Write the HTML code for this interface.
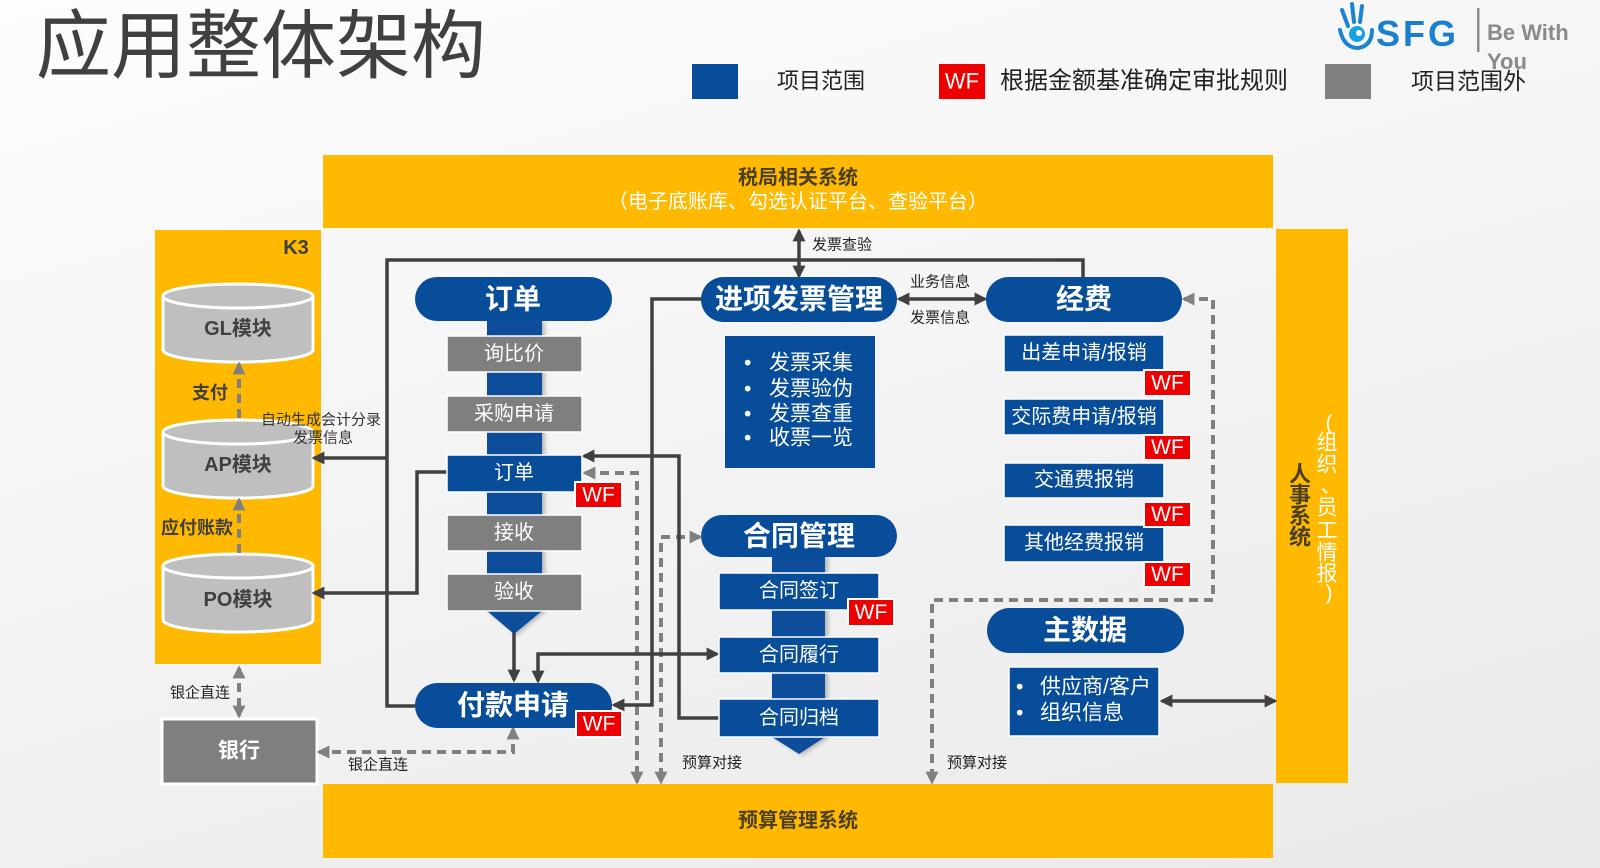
<!DOCTYPE html>
<html><head><meta charset="utf-8">
<style>
html,body{margin:0;padding:0;}
body{width:1600px;height:868px;overflow:hidden;background:linear-gradient(165deg,#fdfdfd 0%,#f4f4f4 45%,#e9e9e9 100%);font-family:"Liberation Sans","Noto Sans CJK SC",sans-serif;}
svg{display:block;}
text{font-family:"Liberation Sans","Noto Sans CJK SC",sans-serif;}
</style></head>
<body>
<svg width="1600" height="868" viewBox="0 0 1600 868" xmlns="http://www.w3.org/2000/svg">
<defs>
<marker id="ad" viewBox="0 0 10 10" refX="8" refY="5" markerWidth="13" markerHeight="13" markerUnits="userSpaceOnUse" orient="auto-start-reverse"><path d="M0,0 L10,5 L0,10 z" fill="#404040"/></marker>
<marker id="ag" viewBox="0 0 10 10" refX="8" refY="5" markerWidth="13" markerHeight="13" markerUnits="userSpaceOnUse" orient="auto-start-reverse"><path d="M0,0 L10,5 L0,10 z" fill="#808080"/></marker>
<filter id="sh" x="-10%" y="-10%" width="130%" height="130%"><feDropShadow dx="3" dy="1" stdDeviation="2" flood-color="#000" flood-opacity="0.25"/></filter>
</defs>

<!-- Title -->
<text x="36" y="46" font-size="75" fill="#404040" dominant-baseline="central">应用整体架构</text>

<!-- Legend -->
<rect x="692" y="64" width="46" height="35" fill="#084d9a"/>
<text x="777" y="81" font-size="22" fill="#222" dominant-baseline="central">项目范围</text>
<rect x="939" y="64" width="46" height="35" fill="#ee0000"/>
<text x="962" y="81" font-size="22" fill="#fff" text-anchor="middle" dominant-baseline="central">WF</text>
<text x="1000" y="81" font-size="24" fill="#222" dominant-baseline="central">根据金额基准确定审批规则</text>
<rect x="1325" y="64" width="46" height="35" fill="#808080"/>
<text x="1411" y="81" font-size="23" fill="#222" dominant-baseline="central">项目范围外</text>

<!-- Logo -->
<g fill="none" stroke="#1b84d2" stroke-width="4" stroke-linecap="round">
<path d="M1342,10 L1348,26"/><path d="M1352,4 L1354,22"/><path d="M1362,6 L1360,22"/><path d="M1340,30 Q1344,48 1358,48 Q1372,46 1372,30"/>
</g>
<circle cx="1357" cy="34" r="8" fill="#17a3e3"/>
<circle cx="1359" cy="33" r="3" fill="#fff"/>
<text x="1376" y="46" font-size="36" font-weight="bold" fill="#1b7fd0" letter-spacing="3">SFG</text>
<rect x="1477" y="8" width="2.5" height="44" fill="#8c8c8c"/>
<text x="1487" y="40" font-size="22" font-weight="bold" fill="#8a8a8a">Be With</text>
<text x="1487" y="69" font-size="22" font-weight="bold" fill="#8a8a8a">You</text>

<!-- Yellow system boxes -->
<rect x="323" y="155" width="950" height="73" fill="#ffb900"/>
<text x="798" y="178" font-size="20" font-weight="bold" fill="#4b3f22" text-anchor="middle" dominant-baseline="central">税局相关系统</text>
<text x="798" y="202" font-size="20" fill="#fff" text-anchor="middle" dominant-baseline="central">（电子底账库、勾选认证平台、查验平台）</text>

<rect x="323" y="784" width="950" height="74" fill="#ffb900"/>
<text x="798" y="821" font-size="20" font-weight="bold" fill="#4b3f22" text-anchor="middle" dominant-baseline="central">预算管理系统</text>

<rect x="1276" y="229" width="72" height="554" fill="#ffb900"/>
<g font-size="22" fill="#4b3f22" text-anchor="middle" dominant-baseline="central" font-weight="bold">
<text x="1300" y="474">人</text><text x="1300" y="495">事</text><text x="1300" y="516">系</text><text x="1300" y="537">统</text>
</g>
<g font-size="21" fill="#fff" text-anchor="middle" dominant-baseline="central">
<text x="1329" y="423">(</text><text x="1327" y="443">组</text><text x="1327" y="465">织</text><text x="1331" y="486">、</text><text x="1327" y="508">员</text><text x="1327" y="531">工</text><text x="1327" y="553">情</text><text x="1327" y="574">报</text><text x="1329" y="593">)</text>
</g>

<!-- K3 -->
<rect x="155" y="230" width="166" height="434" fill="#ffb900"/>
<text x="296" y="248" font-size="20" font-weight="bold" fill="#404040" text-anchor="middle" dominant-baseline="central">K3</text>

<!-- Cylinders -->
<g fill="#bfbfbf" stroke="#fff" stroke-width="3">
<path d="M163,296 L163,350 A75,12 0 0 0 313,350 L313,296 Z"/><ellipse cx="238" cy="296" rx="75" ry="12"/>
<path d="M163,432 L163,486 A75,12 0 0 0 313,486 L313,432 Z"/><ellipse cx="238" cy="432" rx="75" ry="12"/>
<path d="M163,566 L163,620 A75,12 0 0 0 313,620 L313,566 Z"/><ellipse cx="238" cy="566" rx="75" ry="12"/>
</g>
<g font-size="20" font-weight="bold" fill="#404040" text-anchor="middle" dominant-baseline="central">
<text x="238" y="329">GL模块</text>
<text x="238" y="465">AP模块</text>
<text x="238" y="600">PO模块</text>
</g>
<text x="210" y="393" font-size="18" font-weight="bold" fill="#404040" text-anchor="middle" dominant-baseline="central">支付</text>
<text x="197" y="528" font-size="18" font-weight="bold" fill="#404040" text-anchor="middle" dominant-baseline="central">应付账款</text>

<!-- Bank -->
<rect x="162" y="719" width="155" height="65" fill="#7f7f7f" stroke="#fff" stroke-width="3"/>
<text x="239" y="751" font-size="21" font-weight="bold" fill="#fff" text-anchor="middle" dominant-baseline="central">银行</text>

<!-- Dashed arrows gray -->
<g fill="none" stroke="#808080" stroke-width="4" stroke-dasharray="9,6">
<path d="M239,418 L239,364" marker-end="url(#ag)"/>
<path d="M239,553 L239,500" marker-end="url(#ag)"/>
<path d="M239,668 L239,716" marker-start="url(#ag)" marker-end="url(#ag)"/>
<path d="M513,729 L513,752 L319,752" marker-start="url(#ag)" marker-end="url(#ag)"/>
<path d="M585,473 L637,473 L637,782" marker-start="url(#ag)" marker-end="url(#ag)"/>
<path d="M700,537 L661,537 L661,782" marker-start="url(#ag)" marker-end="url(#ag)"/>
<path d="M1184,299 L1213,299 L1213,600 L932,600 L932,782" marker-start="url(#ag)" marker-end="url(#ag)"/>
</g>

<!-- Solid connectors -->
<g fill="none" stroke="#404040" stroke-width="3.5">
<path d="M415,706 L387,706 L387,260 L1083,260 L1083,278"/>
<path d="M387,458 L314,458" marker-end="url(#ad)"/>
<path d="M447,472 L417,472 L417,593 L314,593" marker-end="url(#ad)"/>
<path d="M584,456 L679,456 L679,718 L719,718" marker-start="url(#ad)"/>
<path d="M702,299 L652,299 L652,705 L614,705" marker-end="url(#ad)"/>
<path d="M514,617 L514,680" marker-start="url(#ad)" marker-end="url(#ad)"/>
<path d="M538,681 L538,654 L717,654" marker-start="url(#ad)" marker-end="url(#ad)"/>
<path d="M799,231 L799,276" marker-start="url(#ad)" marker-end="url(#ad)"/>
<path d="M899,299 L985,299" marker-start="url(#ad)" marker-end="url(#ad)"/>
<path d="M1162,701 L1275,701" marker-start="url(#ad)" marker-end="url(#ad)"/>
</g>

<!-- Connector labels -->
<g font-size="15" fill="#222" dominant-baseline="central">
<text x="812" y="245">发票查验</text>
<text x="910" y="282">业务信息</text>
<text x="910" y="318">发票信息</text>
<text x="261" y="420" fill="#333">自动生成会计分录</text>
<text x="293" y="438" fill="#333">发票信息</text>
<text x="170" y="693">银企直连</text>
<text x="348" y="765">银企直连</text>
<text x="682" y="763">预算对接</text>
<text x="947" y="763">预算对接</text>
</g>

<!-- 订单 column -->
<g filter="url(#sh)">
<rect x="487" y="320" width="55" height="292" fill="#084d9a"/>
<polygon points="487,611 542,611 514,634" fill="#084d9a"/>
</g>
<rect x="415" y="277" width="197" height="44" rx="22" fill="#084d9a"/>
<text x="513" y="299" font-size="28" font-weight="bold" fill="#fff" text-anchor="middle" dominant-baseline="central">订单</text>
<g stroke="#fff" stroke-width="1.5">
<rect x="447" y="336" width="135" height="36" fill="#7f7f7f"/>
<rect x="447" y="396" width="135" height="36" fill="#7f7f7f"/>
<rect x="447" y="455" width="135" height="37" fill="#084d9a"/>
<rect x="447" y="515" width="135" height="36" fill="#7f7f7f"/>
<rect x="447" y="574" width="135" height="37" fill="#7f7f7f"/>
</g>
<g font-size="20" fill="#fff" text-anchor="middle" dominant-baseline="central">
<text x="514" y="354">询比价</text>
<text x="514" y="414">采购申请</text>
<text x="514" y="473">订单</text>
<text x="514" y="533">接收</text>
<text x="514" y="592">验收</text>
</g>

<!-- 付款申请 -->
<rect x="415" y="683" width="197" height="45" rx="22.5" fill="#084d9a"/>
<text x="513" y="705" font-size="28" font-weight="bold" fill="#fff" text-anchor="middle" dominant-baseline="central">付款申请</text>

<!-- 进项发票管理 -->
<rect x="701" y="277" width="196" height="45" rx="22.5" fill="#084d9a"/>
<text x="799" y="299" font-size="28" font-weight="bold" fill="#fff" text-anchor="middle" dominant-baseline="central">进项发票管理</text>
<rect x="725" y="336" width="150" height="132" fill="#084d9a"/>
<g font-size="21" fill="#fff" dominant-baseline="central">
<text x="744" y="363">•</text><text x="769" y="363">发票采集</text>
<text x="744" y="389">•</text><text x="769" y="389">发票验伪</text>
<text x="744" y="414">•</text><text x="769" y="414">发票查重</text>
<text x="744" y="438">•</text><text x="769" y="438">收票一览</text>
</g>

<!-- 合同管理 -->
<g filter="url(#sh)">
<rect x="772" y="555" width="53" height="183" fill="#084d9a"/>
<polygon points="772,737 825,737 799,754" fill="#084d9a"/>
</g>
<rect x="701" y="515" width="196" height="42" rx="21" fill="#084d9a"/>
<text x="799" y="536" font-size="28" font-weight="bold" fill="#fff" text-anchor="middle" dominant-baseline="central">合同管理</text>
<g stroke="#fff" stroke-width="1.5" fill="#084d9a">
<rect x="719" y="573" width="160" height="37"/>
<rect x="719" y="637" width="160" height="36"/>
<rect x="719" y="699" width="160" height="38"/>
</g>
<g font-size="20" fill="#fff" text-anchor="middle" dominant-baseline="central">
<text x="799" y="591">合同签订</text>
<text x="799" y="655">合同履行</text>
<text x="799" y="718">合同归档</text>
</g>

<!-- 经费 -->
<rect x="986" y="277" width="196" height="45" rx="22.5" fill="#084d9a"/>
<text x="1084" y="299" font-size="28" font-weight="bold" fill="#fff" text-anchor="middle" dominant-baseline="central">经费</text>
<g stroke="#fff" stroke-width="1.5" fill="#084d9a">
<rect x="1004" y="335" width="160" height="37"/>
<rect x="1004" y="399" width="160" height="36"/>
<rect x="1004" y="463" width="160" height="35"/>
<rect x="1004" y="525" width="160" height="37"/>
</g>
<g font-size="20" fill="#fff" text-anchor="middle" dominant-baseline="central">
<text x="1084" y="353">出差申请/报销</text>
<text x="1084" y="417">交际费申请/报销</text>
<text x="1084" y="480">交通费报销</text>
<text x="1084" y="543">其他经费报销</text>
</g>

<!-- 主数据 -->
<rect x="987" y="608" width="197" height="45" rx="22.5" fill="#084d9a"/>
<text x="1085" y="630" font-size="28" font-weight="bold" fill="#fff" text-anchor="middle" dominant-baseline="central">主数据</text>
<rect x="1009" y="667" width="150" height="69" fill="#084d9a" stroke="#fff" stroke-width="1.5"/>
<g font-size="21" fill="#fff" dominant-baseline="central">
<text x="1016" y="687">•</text><text x="1040" y="687">供应商/客户</text>
<text x="1016" y="713">•</text><text x="1040" y="713">组织信息</text>
</g>

<!-- WF badges -->
<g stroke="#fff" stroke-width="2" fill="#ee0000">
<rect x="575" y="482" width="47" height="26"/>
<rect x="576" y="711" width="46" height="26"/>
<rect x="848" y="599" width="46" height="27"/>
<rect x="1144" y="370" width="47" height="26"/>
<rect x="1144" y="435" width="47" height="25"/>
<rect x="1144" y="502" width="47" height="25"/>
<rect x="1144" y="562" width="47" height="25"/>
</g>
<g font-size="21" fill="#fff" text-anchor="middle" dominant-baseline="central">
<text x="598.5" y="495">WF</text>
<text x="599" y="724">WF</text>
<text x="871" y="612.5">WF</text>
<text x="1167.5" y="383">WF</text>
<text x="1167.5" y="447.5">WF</text>
<text x="1167.5" y="514.5">WF</text>
<text x="1167.5" y="574.5">WF</text>
</g>
</svg>
</body></html>
